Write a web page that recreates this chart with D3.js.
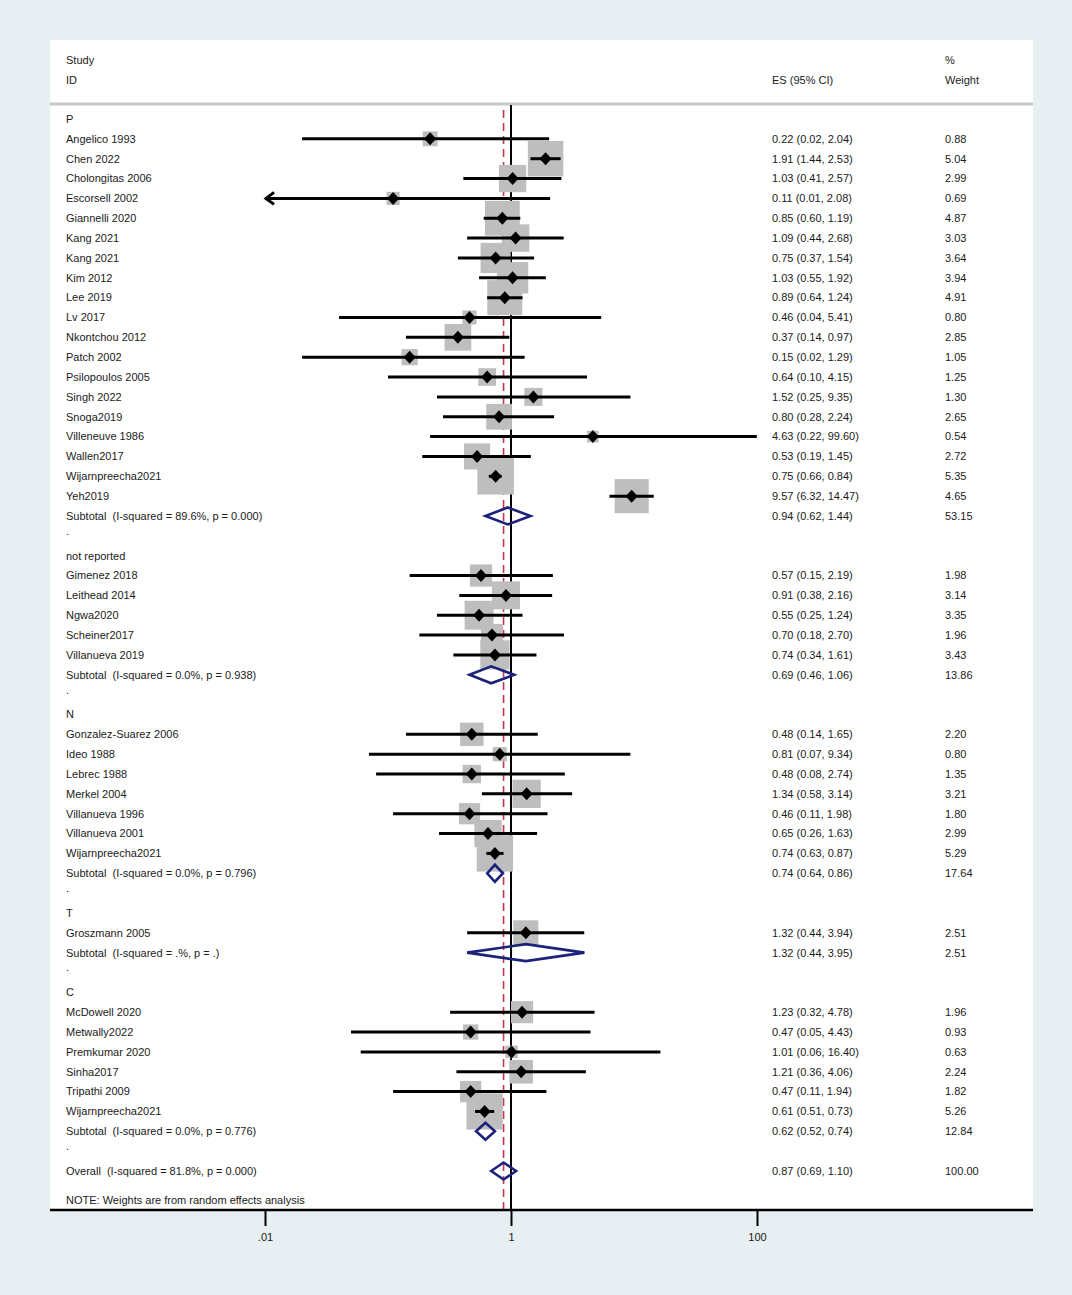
<!DOCTYPE html>
<html>
<head>
<meta charset="utf-8">
<script src="https://cdn.jsdelivr.net/npm/d3@7"></script>
<style>
  body { margin: 0; background: #e7eff2; }
  svg { display: block; }
  text { font-family: "Liberation Sans", Arial, sans-serif; font-size: 11px; fill: #1a1a1a; white-space: pre; }
</style>
</head>
<body>
<svg id="chart" width="1072" height="1295"></svg>
<script>
// ---------- DATA ----------
const kinds = [
  "group","study","study","study","study","study","study","study","study","study","study","study","study","study","study","study","study","study","study","study","sub","dot",
  "group","study","study","study","study","study","sub","dot",
  "group","study","study","study","study","study","study","study","sub","dot",
  "group","study","sub","dot",
  "group","study","study","study","study","study","study","sub","dot",
  "overall"
];
const labels = [
  "P","Angelico 1993","Chen 2022","Cholongitas 2006","Escorsell 2002","Giannelli 2020","Kang 2021","Kang 2021","Kim 2012","Lee 2019","Lv 2017","Nkontchou 2012","Patch 2002","Psilopoulos 2005","Singh 2022","Snoga2019","Villeneuve 1986","Wallen2017","Wijarnpreecha2021","Yeh2019","Subtotal  (I-squared = 89.6%, p = 0.000)",".",
  "not reported","Gimenez 2018","Leithead 2014","Ngwa2020","Scheiner2017","Villanueva 2019","Subtotal  (I-squared = 0.0%, p = 0.938)",".",
  "N","Gonzalez-Suarez 2006","Ideo 1988","Lebrec 1988","Merkel 2004","Villanueva 1996","Villanueva 2001","Wijarnpreecha2021","Subtotal  (I-squared = 0.0%, p = 0.796)",".",
  "T","Groszmann 2005","Subtotal  (I-squared = .%, p = .)",".",
  "C","McDowell 2020","Metwally2022","Premkumar 2020","Sinha2017","Tripathi 2009","Wijarnpreecha2021","Subtotal  (I-squared = 0.0%, p = 0.776)",".",
  "Overall  (I-squared = 81.8%, p = 0.000)"
];
const es = [
  null,0.22,1.91,1.03,0.11,0.85,1.09,0.75,1.03,0.89,0.46,0.37,0.15,0.64,1.52,0.80,4.63,0.53,0.75,9.57,0.94,null,
  null,0.57,0.91,0.55,0.70,0.74,0.69,null,
  null,0.48,0.81,0.48,1.34,0.46,0.65,0.74,0.74,null,
  null,1.32,1.32,null,
  null,1.23,0.47,1.01,1.21,0.47,0.61,0.62,null,
  0.87
];
const lower = [
  null,0.02,1.44,0.41,0.01,0.60,0.44,0.37,0.55,0.64,0.04,0.14,0.02,0.10,0.25,0.28,0.22,0.19,0.66,6.32,0.62,null,
  null,0.15,0.38,0.25,0.18,0.34,0.46,null,
  null,0.14,0.07,0.08,0.58,0.11,0.26,0.63,0.64,null,
  null,0.44,0.44,null,
  null,0.32,0.05,0.06,0.36,0.11,0.51,0.52,null,
  0.69
];
const upper = [
  null,2.04,2.53,2.57,2.08,1.19,2.68,1.54,1.92,1.24,5.41,0.97,1.29,4.15,9.35,2.24,99.60,1.45,0.84,14.47,1.44,null,
  null,2.19,2.16,1.24,2.70,1.61,1.06,null,
  null,1.65,9.34,2.74,3.14,1.98,1.63,0.87,0.86,null,
  null,3.94,3.95,null,
  null,4.78,4.43,16.40,4.06,1.94,0.73,0.74,null,
  1.10
];
const weight = [
  null,0.88,5.04,2.99,0.69,4.87,3.03,3.64,3.94,4.91,0.80,2.85,1.05,1.25,1.30,2.65,0.54,2.72,5.35,4.65,53.15,null,
  null,1.98,3.14,3.35,1.96,3.43,13.86,null,
  null,2.20,0.80,1.35,3.21,1.80,2.99,5.29,17.64,null,
  null,2.51,2.51,null,
  null,1.96,0.93,0.63,2.24,1.82,5.26,12.84,null,
  100.00
];
const tickValues = [0.01, 1, 100];
const tickLabels = [".01", "1", "100"];
const headerLeft = ["Study", "ID"];
const headerES = "ES (95% CI)";
const headerWeight = ["%", "Weight"];
const note = "NOTE: Weights are from random effects analysis";
const overallES = 0.87;

// ---------- LAYOUT ----------
const svg = d3.select("#chart");
const panel = {x0: 50, x1: 1033, y0: 40, y1: 1210};
const x = d3.scaleLog().domain([0.01, 100]).range([265, 757]);
const y = d3.scaleLinear().domain([0, labels.length - 1]).range([119, 1171]);
const xLabel = 66, xES = 772, xW = 945;
const headerLineY = 104;

const rows = labels.map((l, i) => ({label: l, kind: kinds[i], es: es[i], lo: lower[i], hi: upper[i], w: weight[i], i}));

// panel
svg.append("rect").attr("x", panel.x0).attr("y", panel.y0)
  .attr("width", panel.x1 - panel.x0).attr("height", panel.y1 - panel.y0).attr("fill", "#ffffff");

// header
svg.append("text").attr("x", xLabel).attr("y", 60).attr("dy", "0.35em").text(headerLeft[0]);
svg.append("text").attr("x", xLabel).attr("y", 80).attr("dy", "0.35em").text(headerLeft[1]);
svg.append("text").attr("x", xES).attr("y", 80).attr("dy", "0.35em").text(headerES);
svg.append("text").attr("x", xW).attr("y", 60).attr("dy", "0.35em").text(headerWeight[0]);
svg.append("text").attr("x", xW).attr("y", 80).attr("dy", "0.35em").text(headerWeight[1]);
svg.append("line").attr("x1", panel.x0).attr("x2", panel.x1).attr("y1", headerLineY).attr("y2", headerLineY)
  .attr("stroke", "#c9c9c9").attr("stroke-width", 3);

// reference lines
svg.append("line").attr("x1", x(1)).attr("x2", x(1)).attr("y1", headerLineY + 1).attr("y2", panel.y1)
  .attr("stroke", "#000").attr("stroke-width", 2);
svg.append("line").attr("x1", x(overallES)).attr("x2", x(overallES)).attr("y1", 110).attr("y2", panel.y1)
  .attr("stroke", "#bf3a4a").attr("stroke-width", 1.6).attr("stroke-dasharray", "8,5");

const studies = rows.filter(r => r.kind === "study");
const k = 15.8;

// weight boxes
svg.append("g").selectAll("rect").data(studies).join("rect")
  .attr("x", d => x(d.es) - k * Math.sqrt(d.w) / 2)
  .attr("y", d => y(d.i) - k * Math.sqrt(d.w) / 2)
  .attr("width", d => k * Math.sqrt(d.w))
  .attr("height", d => k * Math.sqrt(d.w))
  .attr("fill", "#bebebe");

// CI lines
const clipLo = x.domain()[0], clipHi = x.domain()[1];
svg.append("g").selectAll("line").data(studies).join("line")
  .attr("x1", d => x(Math.max(d.lo, clipLo)))
  .attr("x2", d => x(Math.min(d.hi, clipHi)))
  .attr("y1", d => y(d.i)).attr("y2", d => y(d.i))
  .attr("stroke", "#000").attr("stroke-width", 3);

// arrows where CI reaches the edge
svg.append("g").selectAll("path").data(studies.filter(d => d.lo <= clipLo)).join("path")
  .attr("d", d => {
    const xx = x(clipLo), yy = y(d.i);
    return `M${xx + 9},${yy - 6} L${xx + 1},${yy} L${xx + 9},${yy + 6}`;
  })
  .attr("fill", "none").attr("stroke", "#000").attr("stroke-width", 3);

// point diamonds
svg.append("g").selectAll("path").data(studies).join("path")
  .attr("d", d => {
    const cx = x(d.es), cy = y(d.i);
    return `M${cx - 6},${cy} L${cx},${cy - 6.5} L${cx + 6},${cy} L${cx},${cy + 6.5} Z`;
  })
  .attr("fill", "#000");

// pooled diamonds
const pooled = rows.filter(r => r.kind === "sub" || r.kind === "overall");
svg.append("g").selectAll("path").data(pooled).join("path")
  .attr("d", d => {
    const cy = y(d.i);
    return `M${x(d.lo)},${cy} L${x(d.es)},${cy - 8.5} L${x(d.hi)},${cy} L${x(d.es)},${cy + 8.5} Z`;
  })
  .attr("fill", "none").attr("stroke", "#1c217a").attr("stroke-width", 2.6).attr("stroke-linejoin", "miter");

// row labels
svg.append("g").selectAll("text").data(rows).join("text")
  .attr("x", xLabel).attr("y", d => y(d.i)).attr("dy", d => d.kind === "dot" ? "-0.1em" : "0.35em")
  .text(d => d.label);

// ES and weight columns
const withVals = rows.filter(r => r.es !== null);
svg.append("g").selectAll("text").data(withVals).join("text")
  .attr("x", xES).attr("y", d => y(d.i)).attr("dy", "0.35em")
  .text(d => `${d.es.toFixed(2)} (${d.lo.toFixed(2)}, ${d.hi.toFixed(2)})`);
svg.append("g").selectAll("text").data(withVals).join("text")
  .attr("x", xW).attr("y", d => y(d.i)).attr("dy", "0.35em")
  .text(d => d.w.toFixed(2));

// note
svg.append("text").attr("x", xLabel).attr("y", 1200).attr("dy", "0.35em").text(note);

// axis
svg.append("line").attr("x1", panel.x0).attr("x2", panel.x1).attr("y1", panel.y1).attr("y2", panel.y1)
  .attr("stroke", "#000").attr("stroke-width", 2.5);
const axis = d3.axisBottom(x).tickValues(tickValues)
  .tickFormat((d, i) => tickLabels[i]).tickSize(16).tickPadding(7);
const ax = svg.append("g").attr("transform", `translate(0,${panel.y1})`).call(axis);
ax.select(".domain").remove();
ax.selectAll(".tick line").attr("stroke", "#000").attr("stroke-width", 2);
ax.selectAll(".tick text").attr("font-family", "Liberation Sans, Arial, sans-serif").attr("font-size", 11).attr("fill", "#1a1a1a");
</script>
</body>
</html>
